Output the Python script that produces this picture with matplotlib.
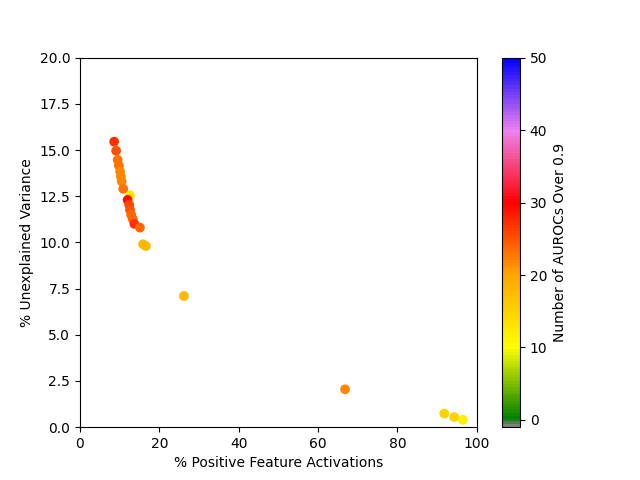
import matplotlib
matplotlib.use("Agg")
import matplotlib.pyplot as plt
import numpy as np
from matplotlib.colors import LinearSegmentedColormap, Normalize

# % positive feature activations vs % unexplained variance, coloured by AUROC count
pct_active = [8.6, 9.1, 9.5, 9.8, 10.1, 10.3, 10.5, 10.9, 12.6, 12.0, 12.4, 12.6,
              12.9, 13.3, 13.7, 15.1, 15.9, 16.6, 26.2, 66.8, 91.8, 94.3, 96.5]
pct_unexplained = [15.45, 14.96, 14.47, 14.15, 13.84, 13.57, 13.3, 12.9, 12.55, 12.3,
                   12.03, 11.76, 11.49, 11.26, 11.0, 10.8, 9.9, 9.8, 7.1, 2.05,
                   0.74, 0.55, 0.4]
n_aurocs = [27, 25, 23, 23, 22, 22, 22, 23, 13, 29, 26, 25, 24, 24, 27, 24,
            18, 18, 18, 22, 15, 15, 12]

vmin, vmax = -1, 50
stops = [-1, 0, 10, 20, 30, 40, 50]
stop_colors = ['gray', 'green', 'yellow', 'orange', 'red', 'violet', 'blue']
cmap = LinearSegmentedColormap.from_list(
    'aurocs', [((s - vmin) / (vmax - vmin), c) for s, c in zip(stops, stop_colors)], N=128)

fig = plt.figure(figsize=(6.4, 4.8), dpi=100)
sc = plt.scatter(pct_active, pct_unexplained, c=n_aurocs, cmap=cmap,
                 norm=Normalize(vmin=vmin, vmax=vmax))
plt.xlim(0, 100)
plt.ylim(0, 20)
plt.xlabel('% Positive Feature Activations')
plt.ylabel('% Unexplained Variance')
cbar = plt.colorbar(sc)
cbar.set_label('Number of AUROCs Over 0.9')
plt.savefig('out.png')
